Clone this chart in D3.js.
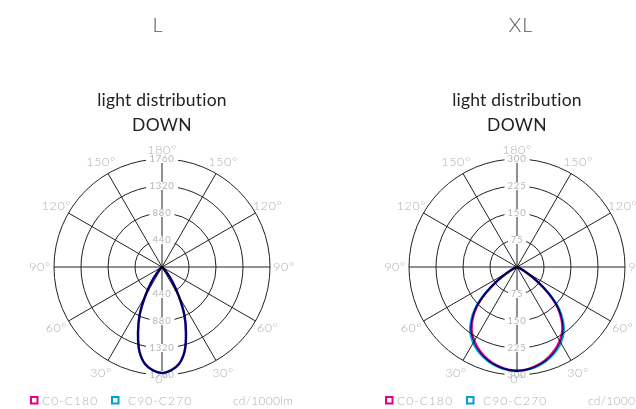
<!DOCTYPE html>
<html>
<head>
    <title>Light distribution</title>
    <script src="https://cdn.jsdelivr.net/npm/d3@7"></script>
    <style>
        body { margin: 0; background: #fff; }
        svg { display: block; font-family: "Lato", "Noto Sans", sans-serif; }
    </style>
</head>
<body>
    <div id="chart"></div>
    <script type="text/javascript">
        // gamma angles (deg, 0 = straight down)
        var gammaAngles = [0, 5, 10, 15, 20, 25, 30, 35, 40, 45, 50, 55, 60, 65, 70, 75, 80, 85, 90];

        // L luminaire, cd/1000lm
        var lC0 = [1730, 1690, 1600, 1420, 1140, 860, 545, 300, 130, 40, 10, 2, 0, 0, 0, 0, 0, 0, 0];
        var lC90 = [1730, 1692, 1604, 1425, 1146, 866, 550, 304, 132, 41, 10, 2, 0, 0, 0, 0, 0, 0, 0];

        // XL luminaire, cd/1000lm
        var xlC0 = [288, 286, 281, 274, 264, 252, 237, 219, 193, 160, 114, 66, 28, 10, 3, 0, 0, 0, 0];
        var xlC90 = [289, 287, 283, 277, 268, 257, 243, 225, 199, 165, 118, 68, 29, 10, 3, 0, 0, 0, 0];

        var lTicks = [440, 880, 1320, 1760];
        var xlTicks = [75, 150, 225, 300];
        var angleLabels = [0, 30, 60, 90, 120, 150, 180];
        var spokeAngles = [0, 30, 60, 90, 120, 150];

        var panelTitles = ["L", "XL"];
        var seriesNames = ["C0-C180", "C90-C270"];
        var seriesColors = ["#e5007d", "#009fe3"];

        var width = 636, height = 409;
        var R = 108;

        var panels = [
            { title: panelTitles[0], cx: 162, cy: 267, ticks: lTicks, c0: lC0, c90: lC90 },
            { title: panelTitles[1], cx: 517, cy: 267, ticks: xlTicks, c0: xlC0, c90: xlC90 }
        ];

        var svg = d3.select("#chart").append("svg")
            .attr("width", width)
            .attr("height", height);

        var rad = Math.PI / 180;
        var grey = "#b0b0b0";

        panels.forEach(function(p) {
            var rScale = d3.scaleLinear()
                .domain([0, d3.max(p.ticks)])
                .range([0, R]);

            svg.append("text")
                .attr("x", p.cx - 4 + (p.title.length - 1) * 8)
                .attr("y", 32)
                .attr("text-anchor", "middle")
                .style("font-size", "20px")
                .style("font-weight", 300)
                .style("letter-spacing", "1px")
                .style("fill", "#555")
                .text(p.title);

            svg.append("text")
                .attr("x", p.cx)
                .attr("y", 106)
                .attr("text-anchor", "middle")
                .style("font-size", "17.5px")
                .style("letter-spacing", "0.2px")
                .style("fill", "#222")
                .text("light distribution");

            svg.append("text")
                .attr("x", p.cx)
                .attr("y", 131)
                .attr("text-anchor", "middle")
                .style("font-size", "17.5px")
                .style("letter-spacing", "0.3px")
                .style("fill", "#222")
                .text("DOWN");

            var g = svg.append("g")
                .attr("transform", "translate(" + p.cx + "," + p.cy + ")");

            // rings
            g.selectAll("circle.ring")
                .data(p.ticks)
                .enter().append("circle")
                    .attr("class", "ring")
                    .attr("r", function(d) { return rScale(d); })
                    .style("fill", "none")
                    .style("stroke", "#222")
                    .style("stroke-width", 1);

            // spokes
            g.selectAll("line.spoke")
                .data(spokeAngles)
                .enter().append("line")
                    .attr("x1", function(d) { return -R * Math.sin(d * rad); })
                    .attr("y1", function(d) { return R * Math.cos(d * rad); })
                    .attr("x2", function(d) { return R * Math.sin(d * rad); })
                    .attr("y2", function(d) { return -R * Math.cos(d * rad); })
                    .style("stroke", "#222")
                    .style("stroke-width", 1);

            // radial tick labels on vertical axis, both sides
            var tickData = [];
            p.ticks.forEach(function(t) {
                tickData.push({ v: t, s: -1 });
                tickData.push({ v: t, s: 1 });
            });
            var tg = g.selectAll("g.tick")
                .data(tickData)
                .enter().append("g")
                    .attr("transform", function(d) { return "translate(0," + (d.s * rScale(d.v)) + ")"; });
            tg.append("rect")
                .attr("x", function(d) { return -String(d.v).length * 3.5 - 2; })
                .attr("y", -4)
                .attr("width", function(d) { return String(d.v).length * 7 + 4; })
                .attr("height", 8)
                .style("fill", "#fff");
            tg.append("text")
                .attr("text-anchor", "middle")
                .attr("dy", "0.35em")
                .style("font-size", "9.5px")
                .style("letter-spacing", "0.8px")
                .style("fill", "#b5b5b5")
                .text(function(d) { return d.v; });

            // distribution curves (multiply so overlap turns navy)
            var line = d3.lineRadial()
                .angle(function(d) { return Math.PI - d.a * rad; })
                .radius(function(d) { return rScale(d.v); })
                .curve(d3.curveCatmullRomClosed);

            [p.c0, p.c90].forEach(function(vals, i) {
                var pts = [];
                gammaAngles.forEach(function(a, j) { pts.push({ a: -a, v: vals[j] }); });
                pts.reverse();
                gammaAngles.forEach(function(a, j) { if (a > 0) pts.push({ a: a, v: vals[j] }); });
                pts = pts.filter(function(d) { return Math.abs(d.a) <= 80; });
                g.append("path")
                    .datum(pts)
                    .attr("d", line)
                    .style("fill", "none")
                    .style("stroke", seriesColors[i])
                    .style("stroke-width", 2.4)
                    .style("stroke-linejoin", "round")
                    .style("mix-blend-mode", "multiply");
            });

            // angle labels
            var labData = [];
            angleLabels.forEach(function(a) {
                if (a === 0 || a === 180) labData.push({ a: a, s: 1 });
                else { labData.push({ a: a, s: -1 }); labData.push({ a: a, s: 1 }); }
            });
            function labR(a) { return a === 0 ? 112 : a === 180 ? 117 : 122; }
            g.selectAll("text.ang")
                .data(labData)
                .enter().append("text")
                    .attr("class", "ang")
                    .attr("x", function(d) { return d.s * labR(d.a) * Math.sin(d.a * rad); })
                    .attr("y", function(d) { return labR(d.a) * Math.cos(d.a * rad); })
                    .attr("dy", "0.35em")
                    .attr("text-anchor", "middle")
                    .style("font-size", "12.5px")
                    .style("font-weight", 300)
                    .style("letter-spacing", "0.6px")
                    .style("fill", grey)
                    .text(function(d) { return d.a + "°"; });

            // legend
            var lx = p.cx - 132;
            var boxX = [1, 82];
            var textX = [12, 98];
            seriesNames.forEach(function(name, i) {
                svg.append("rect")
                    .attr("x", lx + boxX[i])
                    .attr("y", 397)
                    .attr("width", 6.5)
                    .attr("height", 6.5)
                    .style("fill", "none")
                    .style("stroke", seriesColors[i])
                    .style("stroke-width", 2);
                svg.append("text")
                    .attr("x", lx + textX[i])
                    .attr("y", 404.5)
                    .style("font-size", "12px")
                    .style("font-weight", 300)
                    .style("letter-spacing", "1.1px")
                    .style("fill", grey)
                    .text(name);
            });
            svg.append("text")
                .attr("x", lx + 203)
                .attr("y", 404.5)
                .style("font-size", "12px")
                .style("font-weight", 300)
                .style("letter-spacing", "0.3px")
                .style("fill", grey)
                .text("cd/1000lm");
        });
    </script>
</body>
</html>
